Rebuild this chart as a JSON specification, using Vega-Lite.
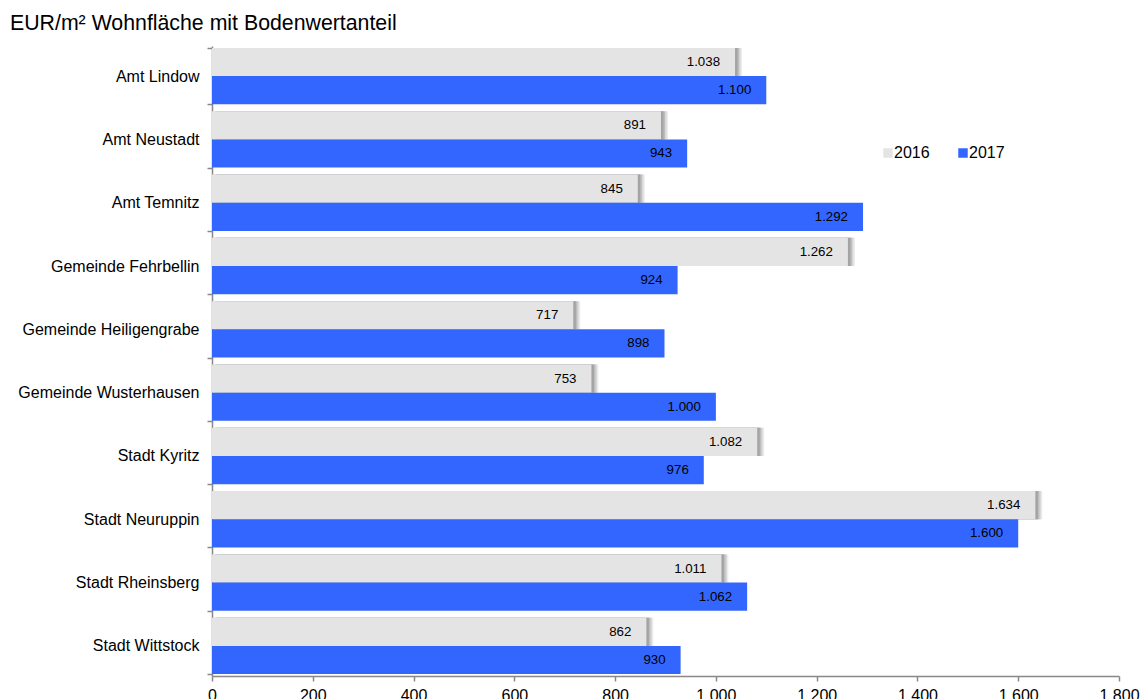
{
  "$schema": "https://vega.github.io/schema/vega-lite/v6.json",
  "width": 907,
  "height": 630,
  "autosize": {"type": "none"},
  "padding": {"left": 212, "top": 46, "right": 23, "bottom": 23},
  "title": {"text": "EUR/m² Wohnfläche mit Bodenwertanteil", "anchor": "start", "frame": "group", "dx": -202, "offset": 4, "fontSize": 21.3, "fontWeight": "normal", "font": "Liberation Sans", "color": "#000000"},
  "config": {
    "locale": {"number": {"decimal": ",", "thousands": ".", "grouping": [3], "currency": ["", " €"]}},
    "view": {"stroke": null},
    "font": "Liberation Sans"
  },
  "data": {"values": [
    {"gemeinde": "Amt Lindow", "jahr": "2016", "wert": 1038},
    {"gemeinde": "Amt Lindow", "jahr": "2017", "wert": 1100},
    {"gemeinde": "Amt Neustadt", "jahr": "2016", "wert": 891},
    {"gemeinde": "Amt Neustadt", "jahr": "2017", "wert": 943},
    {"gemeinde": "Amt Temnitz", "jahr": "2016", "wert": 845},
    {"gemeinde": "Amt Temnitz", "jahr": "2017", "wert": 1292},
    {"gemeinde": "Gemeinde Fehrbellin", "jahr": "2016", "wert": 1262},
    {"gemeinde": "Gemeinde Fehrbellin", "jahr": "2017", "wert": 924},
    {"gemeinde": "Gemeinde Heiligengrabe", "jahr": "2016", "wert": 717},
    {"gemeinde": "Gemeinde Heiligengrabe", "jahr": "2017", "wert": 898},
    {"gemeinde": "Gemeinde Wusterhausen", "jahr": "2016", "wert": 753},
    {"gemeinde": "Gemeinde Wusterhausen", "jahr": "2017", "wert": 1000},
    {"gemeinde": "Stadt Kyritz", "jahr": "2016", "wert": 1082},
    {"gemeinde": "Stadt Kyritz", "jahr": "2017", "wert": 976},
    {"gemeinde": "Stadt Neuruppin", "jahr": "2016", "wert": 1634},
    {"gemeinde": "Stadt Neuruppin", "jahr": "2017", "wert": 1600},
    {"gemeinde": "Stadt Rheinsberg", "jahr": "2016", "wert": 1011},
    {"gemeinde": "Stadt Rheinsberg", "jahr": "2017", "wert": 1062},
    {"gemeinde": "Stadt Wittstock", "jahr": "2016", "wert": 862},
    {"gemeinde": "Stadt Wittstock", "jahr": "2017", "wert": 930}
  ]},
  "encoding": {
    "y": {"field": "gemeinde", "type": "nominal", "sort": null,
      "scale": {"paddingInner": 0.11, "paddingOuter": 0.03},
      "axis": {"title": null, "tickBand": "extent", "labelFontSize": 16, "labelLimit": 400, "labelColor": "#000000", "labelPadding": 8, "tickSize": 5, "tickColor": "#888888", "domainColor": "#888888", "domainWidth": 1.5, "tickWidth": 1.5}},
    "x": {"field": "wert", "type": "quantitative",
      "scale": {"domain": [0, 1800], "nice": false},
      "axis": {"title": null, "values": [0, 200, 400, 600, 800, 1000, 1200, 1400, 1600, 1800], "format": ",d", "grid": false, "labelFontSize": 16, "labelColor": "#000000", "tickSize": 5, "tickColor": "#888888", "domainColor": "#888888", "domainWidth": 1.5, "tickWidth": 1.5, "labelPadding": 6, "labelFlush": false}},
    "yOffset": {"field": "jahr", "type": "nominal", "sort": ["2016", "2017"]}
  },
  "layer": [
    {
      "transform": [{"filter": "datum.jahr == '2016'"}],
      "mark": {"type": "bar", "color": "#ececec", "xOffset": 7},
      "encoding": {}
    },
    {
      "transform": [{"filter": "datum.jahr == '2016'"}],
      "mark": {"type": "bar", "color": "#d6d6d6", "xOffset": 5.5},
      "encoding": {}
    },
    {
      "transform": [{"filter": "datum.jahr == '2016'"}],
      "mark": {"type": "bar", "color": "#bdbdbd", "xOffset": 4},
      "encoding": {}
    },
    {
      "transform": [{"filter": "datum.jahr == '2016'"}],
      "mark": {"type": "bar", "color": "#a4a4a4", "xOffset": 2.5},
      "encoding": {}
    },
    {
      "mark": {"type": "bar"},
      "encoding": {
        "color": {"field": "jahr", "type": "nominal",
          "scale": {"domain": ["2016", "2017"], "range": ["#e4e4e4", "#3366ff"]},
          "legend": {"title": null, "orient": "none", "legendX": 668, "legendY": 99, "direction": "horizontal", "symbolType": "square", "symbolSize": 90, "symbolStrokeWidth": 0, "labelFontSize": 16, "labelColor": "#000000", "labelOffset": -2, "columnPadding": 25}}
      }
    },
    {
      "mark": {"type": "text", "align": "right", "baseline": "middle", "dx": -15, "fontSize": 13.3, "color": "#000000"},
      "encoding": {"text": {"field": "wert", "type": "quantitative", "format": ",d"}}
    }
  ]
}
